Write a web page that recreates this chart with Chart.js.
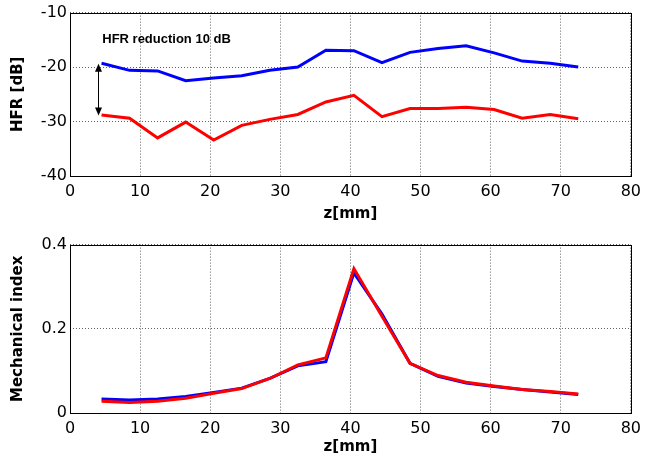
<!DOCTYPE html>
<html lang="en">
<head>
    <meta charset="UTF-8">
    <title>HFR and Mechanical index</title>
    <script src="https://cdn.jsdelivr.net/npm/chart.js"></script>
    <style>
        body { margin: 0; background: #fff; }
        .plot { position: absolute; left: 0; width: 647px; }
        #topWrap { top: 0; height: 232px; }
        #botWrap { top: 232px; height: 233px; }
    </style>
</head>
<body>
    <div id="topWrap" class="plot"><canvas id="topChart" width="647" height="232"></canvas></div>
    <div id="botWrap" class="plot"><canvas id="botChart" width="647" height="233"></canvas></div>

    <script>
        // depth positions along z (mm)
        const zPos = [4.5, 8.5, 12.5, 16.5, 20.5, 24.5, 28.5, 32.5, 36.5, 40.5, 44.5, 48.5, 52.5, 56.5, 60.5, 64.5, 68.5, 72.5];

        // HFR [dB]
        const hfrBlue = [-19.3, -20.6, -20.7, -22.5, -22.0, -21.6, -20.6, -20.0, -16.9, -17.0, -19.2, -17.3, -16.6, -16.1, -17.4, -18.9, -19.3, -20.0];
        const hfrRed = [-28.8, -29.4, -33.0, -30.1, -33.4, -30.7, -29.6, -28.7, -26.4, -25.2, -29.1, -27.6, -27.6, -27.4, -27.8, -29.4, -28.7, -29.5];

        // Mechanical index
        const miBlue = [0.033, 0.031, 0.033, 0.039, 0.049, 0.059, 0.082, 0.112, 0.122, 0.333, 0.235, 0.118, 0.087, 0.071, 0.063, 0.056, 0.050, 0.044];
        const miRed = [0.028, 0.025, 0.028, 0.035, 0.047, 0.058, 0.082, 0.114, 0.131, 0.343, 0.230, 0.118, 0.089, 0.073, 0.064, 0.056, 0.051, 0.045];

        const xTicks = [0, 10, 20, 30, 40, 50, 60, 70, 80];
        const hfrTicks = [-40, -30, -20, -10];
        const miTicks = [0, 0.2, 0.4];

        const FONT = 'DejaVu Sans';

        function pts(ys) {
            return zPos.map((x, i) => ({ x: x, y: ys[i] }));
        }

        // lower order is painted on top
        function lineSet(ys, color, order) {
            return {
                data: pts(ys),
                borderColor: color,
                backgroundColor: color,
                borderWidth: 3,
                pointRadius: 0,
                tension: 0,
                order: order
            };
        }

        // black frame around the plot area
        const framePlugin = {
            id: 'frame',
            afterDraw(chart) {
                const a = chart.chartArea;
                const ctx = chart.ctx;
                ctx.save();
                ctx.strokeStyle = '#000';
                ctx.lineWidth = 1;
                ctx.strokeRect(Math.round(a.left) + 0.5, Math.round(a.top) + 0.5,
                    Math.round(a.right - a.left), Math.round(a.bottom - a.top));
                ctx.restore();
            }
        };

        // text + double arrow on the HFR plot
        const notePlugin = {
            id: 'note',
            afterDatasetsDraw(chart) {
                const xs = chart.scales.x, ys = chart.scales.y;
                const ctx = chart.ctx;
                ctx.save();
                ctx.fillStyle = '#000';
                ctx.font = 'bold 13px "Liberation Sans"';
                ctx.textBaseline = 'middle';
                ctx.fillText('HFR reduction 10 dB', xs.getPixelForValue(4.6), ys.getPixelForValue(-14.9));

                const ax = Math.round(xs.getPixelForValue(4.0)) + 0.5;
                const y1 = ys.getPixelForValue(-19.4);
                const y2 = ys.getPixelForValue(-28.9);
                ctx.strokeStyle = '#000';
                ctx.lineWidth = 1;
                ctx.beginPath();
                ctx.moveTo(ax, y1 + 6);
                ctx.lineTo(ax, y2 - 6);
                ctx.stroke();
                ctx.beginPath();
                ctx.moveTo(ax, y1);
                ctx.lineTo(ax - 3.5, y1 + 8);
                ctx.lineTo(ax + 3.5, y1 + 8);
                ctx.closePath();
                ctx.fill();
                ctx.beginPath();
                ctx.moveTo(ax, y2);
                ctx.lineTo(ax - 3.5, y2 - 8);
                ctx.lineTo(ax + 3.5, y2 - 8);
                ctx.closePath();
                ctx.fill();
                ctx.restore();
            }
        };

        function makeOptions(yMin, yMax, yTicks, yTitle, topPad, xAxisHeight) {
            const grid = {
                color: 'rgba(60,60,60,0.8)',
                lineWidth: 1,
                drawTicks: false
            };
            return {
                responsive: false,
                animation: false,
                layout: { padding: { top: topPad, right: 14, left: 0, bottom: 0 } },
                plugins: { legend: { display: false }, tooltip: { enabled: false } },
                scales: {
                    x: {
                        type: 'linear',
                        min: 0, max: 80,
                        afterBuildTicks: axis => { axis.ticks = xTicks.map(v => ({ value: v })); },
                        afterFit: axis => { axis.height = xAxisHeight; },
                        ticks: { color: '#000', font: { family: FONT, size: 16 }, padding: 6, maxRotation: 0 },
                        grid: grid,
                        border: { display: false, dash: [1, 2] },
                        title: { display: true, text: 'z[mm]', color: '#000', font: { family: FONT, size: 15, weight: 'bold' }, padding: { top: 0, bottom: 9 } }
                    },
                    y: {
                        type: 'linear',
                        min: yMin, max: yMax,
                        afterBuildTicks: axis => { axis.ticks = yTicks.map(v => ({ value: v })); },
                        afterFit: axis => { axis.width = 70; },
                        ticks: { color: '#000', font: { family: FONT, size: 16 }, padding: 3 },
                        grid: grid,
                        border: { display: false, dash: [1, 2] },
                        title: { display: true, text: yTitle, color: '#000', font: { family: FONT, size: 15, weight: 'bold' }, padding: { top: 9, bottom: 0 } }
                    }
                }
            };
        }

        new Chart(document.getElementById('topChart'), {
            type: 'line',
            data: { datasets: [lineSet(hfrBlue, '#0000ff', 1), lineSet(hfrRed, '#ff0000', 0)] },
            options: makeOptions(-40, -10, hfrTicks, 'HFR [dB]', 7, 56),
            plugins: [framePlugin, notePlugin]
        });

        new Chart(document.getElementById('botChart'), {
            type: 'line',
            data: { datasets: [lineSet(miBlue, '#0000ff', 1), lineSet(miRed, '#ff0000', 0)] },
            options: makeOptions(0, 0.4, miTicks, 'Mechanical index', 11, 52),
            plugins: [framePlugin]
        });
    </script>
</body>
</html>
